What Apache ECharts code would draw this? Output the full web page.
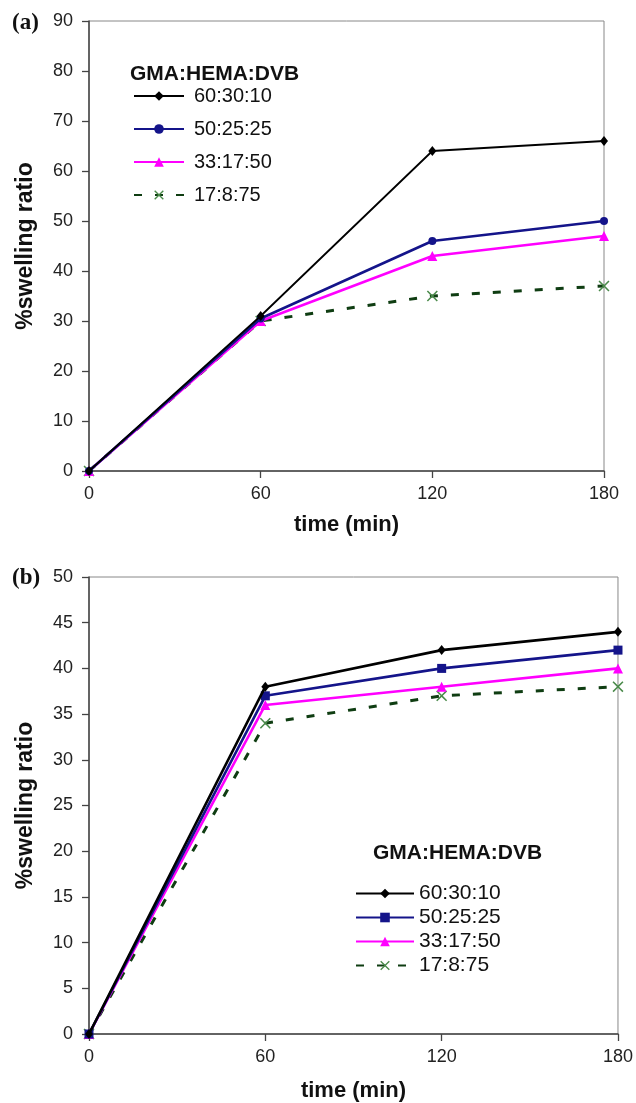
<!DOCTYPE html>
<html>
<head>
<meta charset="utf-8">
<script src="https://cdn.jsdelivr.net/npm/echarts@6/dist/echarts.min.js"></script>
<style>
  html, body { margin: 0; padding: 0; background: #fff; }
  #chart { width: 636px; height: 1103px; }
</style>
</head>
<body>
<div id="chart"></div>
<script>
// Sampling times (min)
const times = [0, 60, 120, 180];
// GMA:HEMA:DVB compositions
const compositions = ['60:30:10', '50:25:25', '33:17:50', '17:8:75'];
const legendTitle = 'GMA:HEMA:DVB';

// Panel (a): % swelling ratio
const swellA_60_30_10 = [0, 31, 64, 66];
const swellA_50_25_25 = [0, 30.5, 46, 50];
const swellA_33_17_50 = [0, 30, 43, 47];
const swellA_17_8_75  = [0, 30, 35, 37];

// Panel (b): % swelling ratio
const swellB_60_30_10 = [0, 38, 42, 44];
const swellB_50_25_25 = [0, 37, 40, 42];
const swellB_33_17_50 = [0, 36, 38, 40];
const swellB_17_8_75  = [0, 34, 37, 38];

// Axis ticks
const yTicksA = { min: 0, max: 90, interval: 10 };
const yTicksB = { min: 0, max: 50, interval: 5 };
const xTicks = { min: 0, max: 180, interval: 60 };

const FONT = '"Liberation Sans", Arial, sans-serif';
const SERIF = '"Liberation Serif", "Times New Roman", serif';
const crossPath = 'path://M0,1 L1,0 L5,4 L9,0 L10,1 L6,5 L10,9 L9,10 L5,6 L1,10 L0,9 L4,5 Z';

const chart = echarts.init(document.getElementById('chart'), null, { renderer: 'canvas' });

function pairs(vals) { return times.map((t, i) => [t, vals[i]]); }

// series styles per composition
function seriesStyles(panel) {
  return [
    { color: '#000000', width: panel === 'a' ? 1.8 : 2.6, type: 'solid', symbol: 'diamond', size: [8, 10], markColor: '#000000' },
    { color: '#14148a', width: 2.6, type: 'solid', symbol: panel === 'a' ? 'circle' : 'rect', size: panel === 'a' ? 8 : 9, markColor: '#14148a' },
    { color: '#ff00ff', width: 2.6, type: 'solid', symbol: 'triangle', size: 10, markColor: '#ff00ff' },
    { color: '#0f3d12', width: 3, type: [8, 13], symbol: crossPath, size: 11, markColor: '#4a8a4a' }
  ];
}

const dataA = [swellA_60_30_10, swellA_50_25_25, swellA_33_17_50, swellA_17_8_75];
const dataB = [swellB_60_30_10, swellB_50_25_25, swellB_33_17_50, swellB_17_8_75];

// panel (b) series carry a suffix so each legend picks its own markers
const suffixB = ' (b)';
const namesA = compositions.slice();
const namesB = compositions.map(c => c + suffixB);

function buildSeries(data, names, styles, idx) {
  // draw the dashed series first so solid lines lie above it
  const order = [3, 2, 1, 0];
  return order.map(k => ({
    name: names[k],
    type: 'line',
    xAxisIndex: idx,
    yAxisIndex: idx,
    data: pairs(data[k]),
    symbol: styles[k].symbol,
    symbolSize: styles[k].size,
    showSymbol: true,
    lineStyle: { color: styles[k].color, width: styles[k].width, type: styles[k].type },
    itemStyle: { color: styles[k].markColor, borderWidth: 0 },
    z: 3 + (3 - k),
    animation: false
  }));
}

const axisLabelStyle = { color: '#222', fontSize: 18, fontFamily: FONT };
const xNameStyle = { color: '#111', fontSize: 22, fontWeight: 'bold', fontFamily: FONT };
const yNameStyle = { color: '#111', fontSize: 23, fontWeight: 'bold', fontFamily: FONT };
const axisLineStyle = { show: true, lineStyle: { color: '#444', width: 1.5 } };
const tickStyle = { show: true, inside: false, length: 7, lineStyle: { color: '#444', width: 1.3 } };

function xAxis(idx, gap) {
  return {
    type: 'value', gridIndex: idx, min: xTicks.min, max: xTicks.max, interval: xTicks.interval,
    name: 'time (min)', nameLocation: 'middle', nameGap: gap, nameTextStyle: xNameStyle,
    axisLine: axisLineStyle, axisTick: tickStyle, splitLine: { show: false },
    axisLabel: Object.assign({ margin: 14 }, axisLabelStyle)
  };
}
function yAxis(idx, t) {
  return {
    type: 'value', gridIndex: idx, min: t.min, max: t.max, interval: t.interval,
    name: '%swelling ratio', nameLocation: 'middle', nameGap: 52, nameTextStyle: yNameStyle,
    axisLine: axisLineStyle, axisTick: tickStyle, splitLine: { show: false },
    axisLabel: Object.assign({ margin: 16 }, axisLabelStyle)
  };
}

const option = {
  backgroundColor: '#ffffff',
  animation: false,
  grid: [
    { left: 89, right: 32, top: 21, bottom: 632, show: true, borderColor: '#888', borderWidth: 1 },
    { left: 89, right: 17, top: 577, bottom: 67, show: true, borderColor: '#888', borderWidth: 1 }
  ],
  xAxis: [xAxis(0, 43), xAxis(1, 46)],
  yAxis: [yAxis(0, yTicksA), yAxis(1, yTicksB)],
  title: [
    { text: '(a)', left: 12, top: 12, padding: 0, textStyle: { fontFamily: SERIF, fontWeight: 'bold', fontSize: 23, color: '#111' } },
    { text: '(b)', left: 12, top: 567, padding: 0, textStyle: { fontFamily: SERIF, fontWeight: 'bold', fontSize: 23, color: '#111' } },
    { text: legendTitle, left: 130, top: 64, padding: 0, textStyle: { fontFamily: FONT, fontWeight: 'bold', fontSize: 21, color: '#111' } },
    { text: legendTitle, left: 373, top: 843, padding: 0, textStyle: { fontFamily: FONT, fontWeight: 'bold', fontSize: 21, color: '#111' } }
  ],
  legend: [
    {
      data: namesA, orient: 'vertical', left: 133, top: 86, padding: 0,
      itemWidth: 50, itemHeight: 12, itemGap: 13,
      textStyle: { fontSize: 20, color: '#111', fontFamily: FONT, padding: [0, 0, 0, 5] },
      selectedMode: false
    },
    {
      data: namesB, orient: 'vertical', left: 355, top: 883, padding: 0,
      itemWidth: 58, itemHeight: 12, itemGap: 3,
      textStyle: { fontSize: 21, color: '#111', fontFamily: FONT },
      selectedMode: false,
      formatter: n => n.replace(suffixB, '')
    }
  ],
  series: [].concat(
    buildSeries(dataA, namesA, seriesStyles('a'), 0),
    buildSeries(dataB, namesB, seriesStyles('b'), 1)
  )
};

chart.setOption(option);
</script>
</body>
</html>
